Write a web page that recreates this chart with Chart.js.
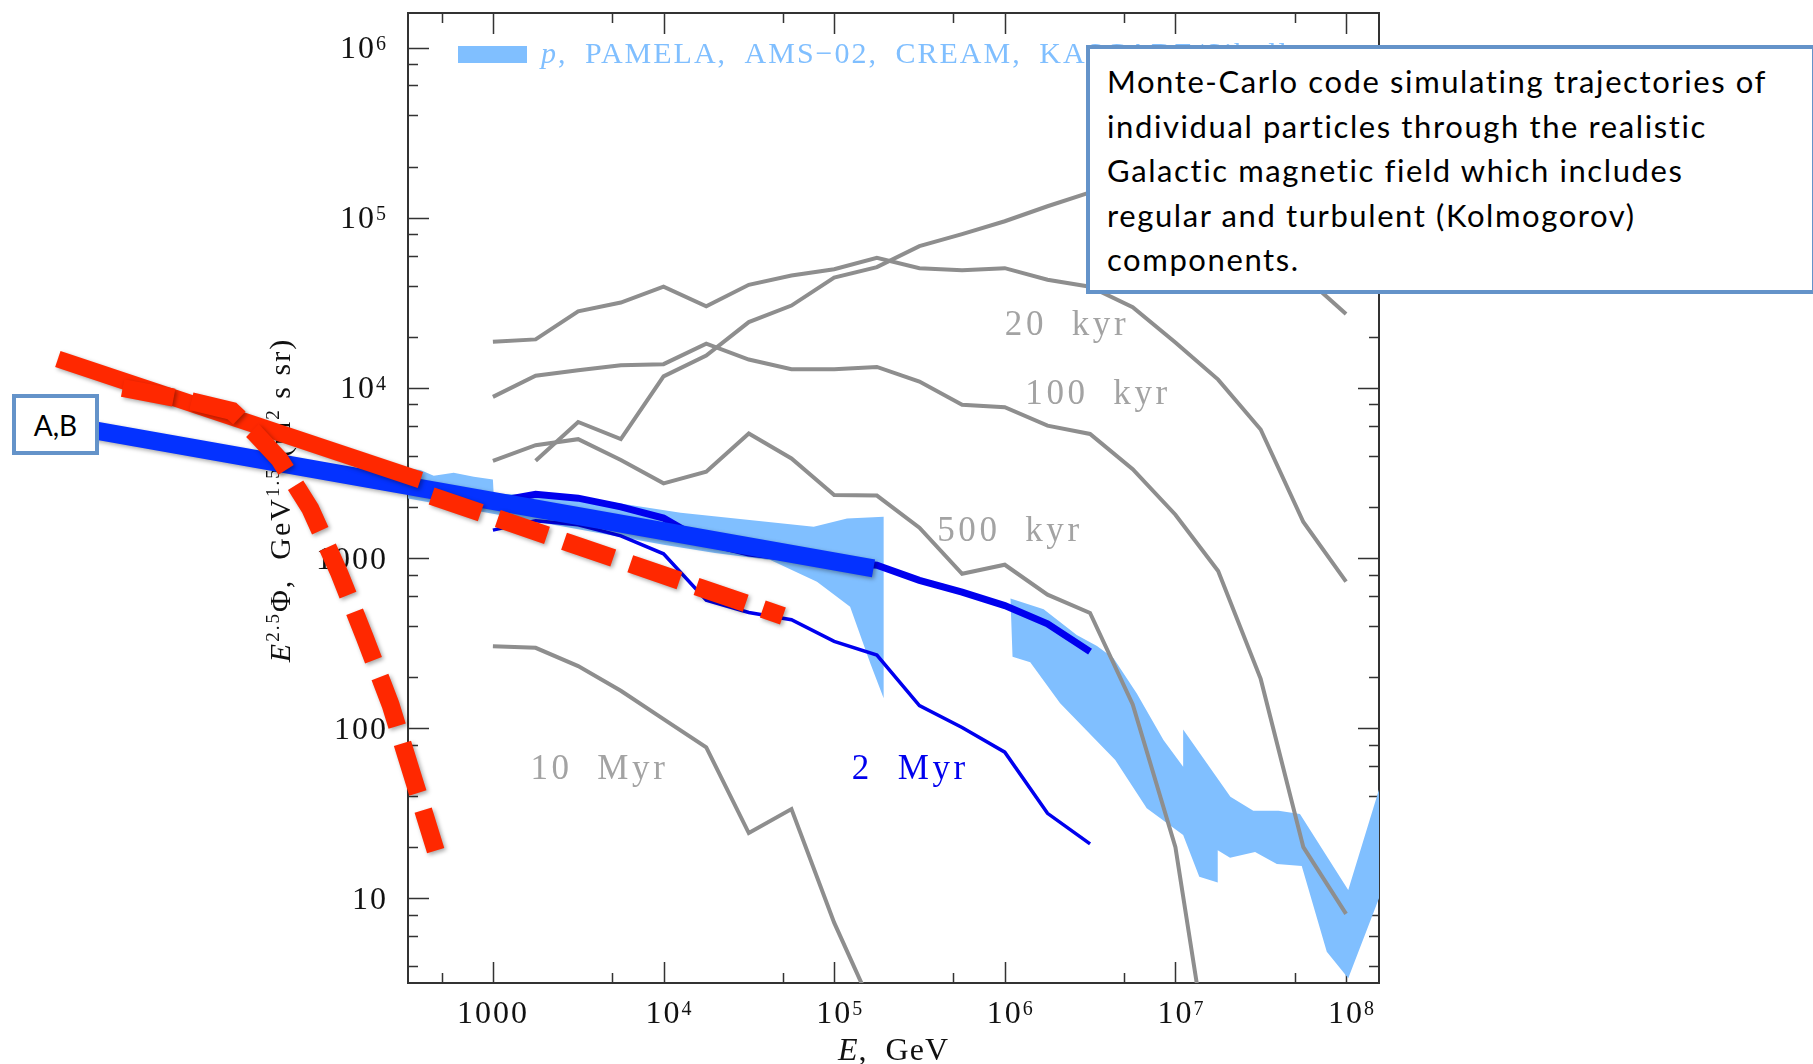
<!DOCTYPE html>
<html>
<head>
<meta charset="utf-8">
<script src="https://cdn.jsdelivr.net/npm/chart.js@4.4.1/dist/chart.umd.min.js"></script>
<style>
  html, body { margin: 0; padding: 0; background: #fff; }
  #wrap { position: relative; width: 1813px; height: 1064px; overflow: hidden; }
  #c { position: absolute; left: 0; top: 0; }
  .note { position: absolute; background: #fff; border: 4px solid #6493c9; box-sizing: border-box;
          font-family: Lato, "Open Sans", sans-serif; color: #000; white-space: nowrap; }
  #mcNote { left: 1086px; top: 45px; width: 730px; height: 249px; padding: 10px 0 0 17px;
            font-size: 31px; line-height: 44.5px; letter-spacing: 1.6px; }
  #abNote { left: 12px; top: 394px; width: 87px; height: 61px; font-size: 28px;
            line-height: 55px; text-align: center; }
</style>
</head>
<body>
<div id="wrap">
  <canvas id="c" width="1813" height="1064"></canvas>
  <div class="note" id="mcNote">Monte-Carlo code simulating trajectories of<br>individual particles through the realistic<br>Galactic magnetic field which includes<br>regular and turbulent (Kolmogorov)<br>components.</div>
  <div class="note" id="abNote">A,B</div>
</div>
<script>
// axis ranges, GeV and GeV^1.5/(m^2 s sr)
const X_MIN = 318, X_MAX = 1.56e8;
const Y_MIN = 3.18, Y_MAX = 1.6e6;

const X_TICKS = [1000, 1e4, 1e5, 1e6, 1e7, 1e8];
const X_TICK_LABELS = ['1000', '10^4', '10^5', '10^6', '10^7', '10^8'];
const Y_TICKS = [10, 100, 1000, 1e4, 1e5, 1e6];
const Y_TICK_LABELS = ['10', '100', '1000', '10^4', '10^5', '10^6'];

// energy grid of the simulated spectra (quarter decades)
const E_GRID = [1000, 1780, 3160, 5620, 1.0e4, 1.78e4, 3.16e4, 5.62e4, 1.0e5, 1.78e5, 3.16e5,
                5.62e5, 1.0e6, 1.78e6, 3.16e6, 5.62e6, 1.0e7, 1.78e7, 3.16e7, 5.62e7, 1.0e8];

// grey spectra at different source ages
const GREY_1 = [18700, 19300, 28200, 31800, 39400, 30200, 40400, 45800, 49900, 58300, 50600,
                49200, 50600, 43300, 39400, 29800, 18500, 11200, 5700, 1630, 728];
const GREY_2 = [8870, 11800, 12700, 13600, 13800, 18200, 14700, 12900, 12900, 13300, 10900,
                7960, 7710, 6010, 5370, 3330, 1800, 839, 195, 20, 8.1];
const GREY_3 = [3730, 4610, 5000, 3770, 2750, 3220, 5400, 3850, 2350, 2330, 1510,
                809, 914, 610, 476, 138, 20, 0.5];
const GREY_4 = [303, 297, 232, 166, 113, 77.1, 24.2, 33.5, 7.2, 2.0];
// this one starts one grid step later
const GREY_5 = [3730, 6310, 5010, 11700, 15500, 24400, 30500, 44600, 51300, 68200,
                80200, 95500, 117000, 141000, 158000, 158000, 126000, 83000, 45700, 27200];

// blue spectra
const BLUE_THIN = [1460, 1660, 1570, 1350, 1060, 566, 479, 434, 324, 269, 136, 101, 72.3, 31.6, 20.9];
const BLUE_MID = [2140, 2370, 2250, 2000, 1720, 1230, 1070, 1000, 955, 908, 740, 631, 526, 411, 282];

// measured proton band, low and high energy parts (outline: upper edge, then lower edge back)
const BAND_LO_E = [318, 376, 450, 589, 773, 1000, 1010, 3160, 1.26e4, 7.59e4, 1.19e5, 1.95e5,
                   1.95e5, 1.63e5, 1.24e5, 7.93e4, 4.23e4, 2.0e4, 1.0e4, 3160, 1000, 318];
const BAND_LO_F = [3365, 3290, 3050, 3170, 3010, 2900, 2400, 2290, 1850, 1530, 1710, 1750,
                   150, 240, 518, 726, 973, 1070, 1200, 1480, 1820, 2240];
const BAND_HI_E = [1.08e6, 1.69e6, 2.64e6, 3.47e6, 4.34e6, 5.94e6, 8.51e6, 1.11e7, 1.11e7, 2.10e7,
                   2.86e7, 4.02e7, 5.37e7, 1.03e8, 1.56e8, 1.56e8, 1.03e8, 7.71e7, 5.5e7, 3.93e7,
                   2.93e7, 2.09e7, 1.77e7, 1.77e7, 1.38e7, 1.11e7, 6.79e6, 4.44e6, 2.11e6, 1.41e6, 1.11e6];
const BAND_HI_F = [579, 500, 353, 304, 258, 160, 85.3, 59.4, 98.4, 39.5,
                   32.7, 32.7, 31.3, 11.2, 43.7, 10, 3.39, 4.86, 15.5, 15.9,
                   18.7, 17.3, 19.2, 12.4, 13.4, 23.6, 33.8, 65.0, 140, 244, 263];

// model lines A,B and the red fits
const AB_E = [3.98, 1.70e5];
const AB_F = [5780, 871];
const RED_SOLID_E = [2.82, 376];
const RED_SOLID_F = [14800, 2880];
const RED_CUT_E = [6.76, 15.8, 29.5, 39.8, 56.2, 85.1, 126, 178, 251, 331, 462];
const RED_CUT_F = [10000, 8510, 7330, 5500, 3800, 1950, 813, 339, 138, 56.2, 19.1];
const RED_TAIL_E = [437, 5.01e4];
const RED_TAIL_F = [2320, 457];

// curve labels: text, anchor energy, anchor flux (left/baseline)
const CURVE_LABELS = [
  ['20  kyr', 1.0e6, 20400, '#a3a3a3'],
  ['100  kyr', 1.32e6, 8040, '#a3a3a3'],
  ['500  kyr', 4.02e5, 1260, '#a3a3a3'],
  ['10  Myr', 1660, 50.1, '#a3a3a3'],
  ['2  Myr', 1.27e5, 50.1, '#0000ee']
];

const SERIF = '"Liberation Serif", "Times New Roman", serif';
const pts = (xs, ys) => ys.map((y, i) => ({x: xs[i], y}));

function greyLine(e, f) {
  return { data: pts(e, f), borderColor: '#8e8e8e', borderWidth: 4, order: 8, clip: 0 };
}

// "10^4" style text: base plus raised exponent
function powText(ctx, text, x, y, align, size) {
  const [base, exp] = text.split('^');
  const small = Math.round(size * 0.64);
  ctx.font = size + 'px ' + SERIF;
  const wb = ctx.measureText(base).width;
  let we = 0;
  if (exp) { ctx.font = small + 'px ' + SERIF; we = ctx.measureText(exp).width; }
  const x0 = align === 'right' ? x - wb - we : x - wb / 2;
  ctx.textAlign = 'left';
  ctx.font = size + 'px ' + SERIF;
  ctx.fillText(base, x0, y);
  if (exp) {
    ctx.font = small + 'px ' + SERIF;
    ctx.fillText(exp, x0 + wb, y - 8.5);
  }
}

const axesFrame = {
  id: 'axesFrame',
  beforeDatasetsDraw(chart) {
    const {ctx, chartArea: a, scales: {x, y}} = chart;
    ctx.save();
    ctx.strokeStyle = '#333';
    ctx.lineWidth = 1.5;
    ctx.beginPath();
    for (const t of x.ticks) {
      if (t.value < x.min || t.value > x.max) continue;
      const px = Math.round(x.getPixelForValue(t.value)) + 0.5;
      const len = t.major ? 21 : 10;
      ctx.moveTo(px, a.bottom); ctx.lineTo(px, a.bottom - len);
      ctx.moveTo(px, a.top); ctx.lineTo(px, a.top + len);
    }
    for (const t of y.ticks) {
      if (t.value < y.min || t.value > y.max) continue;
      const py = Math.round(y.getPixelForValue(t.value)) + 0.5;
      const len = t.major ? 21 : 10;
      ctx.moveTo(a.left, py); ctx.lineTo(a.left + len, py);
      ctx.moveTo(a.right, py); ctx.lineTo(a.right - len, py);
    }
    ctx.stroke();
    ctx.lineWidth = 2;
    ctx.strokeRect(a.left, a.top, a.right - a.left, a.bottom - a.top);

    // tick labels
    ctx.fillStyle = '#111';
    ctx.textBaseline = 'alphabetic';
    ctx.letterSpacing = '2px';
    X_TICKS.forEach((v, i) => powText(ctx, X_TICK_LABELS[i], x.getPixelForValue(v), a.bottom + 40, 'center', 32));
    Y_TICKS.forEach((v, i) => powText(ctx, Y_TICK_LABELS[i], a.left - 20, y.getPixelForValue(v) + 10.5, 'right', 32));

    // x title
    ctx.letterSpacing = '1px';
    ctx.font = 'italic 32px ' + SERIF;
    const wE = ctx.measureText('E').width;
    ctx.font = '32px ' + SERIF;
    const wRest = ctx.measureText(',  GeV').width;
    const cx = (a.left + a.right) / 2 - (wE + wRest) / 2;
    ctx.textAlign = 'left';
    ctx.font = 'italic 32px ' + SERIF;
    ctx.fillText('E', cx, 1060);
    ctx.font = '32px ' + SERIF;
    ctx.fillText(',  GeV', cx + wE, 1060);

    // y title, rotated
    const parts = [
      ['E', 'italic 30px', 0], ['2.5', '19px', -11], ['Φ,  GeV', '30px', 0], ['1.5', '19px', -11],
      ['/(m', '30px', 0], ['2', '19px', -11], [' s sr)', '30px', 0]
    ];
    ctx.letterSpacing = '2px';
    let total = 0;
    for (const p of parts) { ctx.font = p[1] + ' ' + SERIF; total += ctx.measureText(p[0]).width; }
    ctx.translate(290, (a.top + a.bottom) / 2 + 2);
    ctx.rotate(-Math.PI / 2);
    let off = -total / 2;
    for (const p of parts) {
      ctx.font = p[1] + ' ' + SERIF;
      ctx.fillText(p[0], off, p[2]);
      off += ctx.measureText(p[0]).width;
    }
    ctx.setTransform(1, 0, 0, 1, 0, 0);

    // curve labels
    ctx.letterSpacing = '3.6px';
    ctx.font = '35px ' + SERIF;
    for (const [txt, e, f, col] of CURVE_LABELS) {
      ctx.fillStyle = col;
      ctx.fillText(txt, x.getPixelForValue(e), y.getPixelForValue(f));
    }

    // legend entry for the measured band
    ctx.fillStyle = '#80bfff';
    ctx.fillRect(458, 46, 69, 17);
    ctx.letterSpacing = '2px';
    ctx.wordSpacing = '8px';
    ctx.font = 'italic 30px ' + SERIF;
    ctx.fillText('p', 541, 63);
    const wp = ctx.measureText('p').width;
    ctx.font = '30px ' + SERIF;
    ctx.fillText(', PAMELA, AMS−02, CREAM, KASCADE/Sibyll', 541 + wp, 63);
    ctx.restore();
  }
};

// PowerPoint-like drop shadow under the overlaid model lines
const dropShadow = {
  id: 'dropShadow',
  beforeDatasetDraw(chart, args) {
    if (!chart.data.datasets[args.index].shadow) return;
    const ctx = chart.ctx;
    ctx.save();
    ctx.shadowColor = 'rgba(0,0,0,0.35)';
    ctx.shadowBlur = 4;
    ctx.shadowOffsetX = 2;
    ctx.shadowOffsetY = 2;
  },
  afterDatasetDraw(chart, args) {
    if (chart.data.datasets[args.index].shadow) chart.ctx.restore();
  }
};

new Chart(document.getElementById('c'), {
  type: 'line',
  data: {
    datasets: [
      { data: pts(BAND_LO_E, BAND_LO_F), fill: 'shape', backgroundColor: '#80bfff', borderWidth: 0, order: 10, clip: 0 },
      { data: pts(BAND_HI_E, BAND_HI_F), fill: 'shape', backgroundColor: '#80bfff', borderWidth: 0, order: 10, clip: 0 },
      greyLine(E_GRID, GREY_1),
      greyLine(E_GRID, GREY_2),
      greyLine(E_GRID, GREY_3),
      greyLine(E_GRID, GREY_4),
      greyLine(E_GRID.slice(1), GREY_5),
      { data: pts(E_GRID, BLUE_THIN), borderColor: '#0000ee', borderWidth: 3.5, order: 7, clip: 0 },
      { data: pts(E_GRID, BLUE_MID), borderColor: '#0000ee', borderWidth: 7, order: 6, clip: 0 },
      { data: pts(AB_E, AB_F), borderColor: '#0432ff', borderWidth: 18, order: 4, clip: false, shadow: true },
      { data: pts(RED_SOLID_E, RED_SOLID_F), borderColor: '#ff2800', borderWidth: 17, order: 3, clip: false, shadow: true },
      { data: pts(RED_CUT_E, RED_CUT_F), borderColor: '#ff2800', borderWidth: 18, borderDash: [52, 18], order: 2, clip: false, shadow: true },
      { data: pts(RED_TAIL_E, RED_TAIL_F), borderColor: '#ff2800', borderWidth: 18, borderDash: [52, 18], order: 2, clip: false, shadow: true }
    ]
  },
  options: {
    responsive: false,
    animation: false,
    layout: { padding: { left: 408, right: 434, top: 13, bottom: 81 } },
    elements: { point: { radius: 0 }, line: { tension: 0, fill: false } },
    plugins: { legend: { display: false }, tooltip: { enabled: false } },
    scales: {
      x: { type: 'logarithmic', display: false, bounds: 'data',
           afterDataLimits: s => { s.min = X_MIN; s.max = X_MAX; } },
      y: { type: 'logarithmic', display: false, bounds: 'data',
           afterDataLimits: s => { s.min = Y_MIN; s.max = Y_MAX; } }
    }
  },
  plugins: [axesFrame, dropShadow]
});
</script>
</body>
</html>
